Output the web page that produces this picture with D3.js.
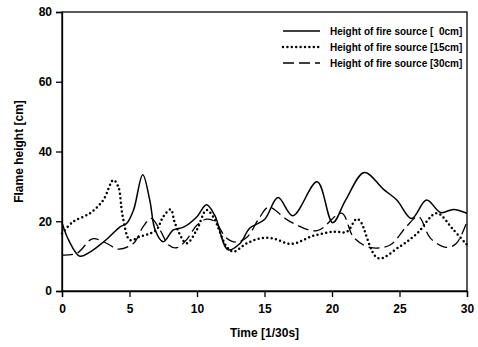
<!DOCTYPE html>
<html>
<head>
<meta charset="utf-8">
<script src="https://cdn.jsdelivr.net/npm/d3@7"></script>
<style>
  body { margin: 0; background: white; }
  text { font-family: "Liberation Sans", Arial, sans-serif; font-weight: bold; fill: black; }
</style>
</head>
<body>
<script>
const width = 478, height = 347;
const margin = {top: 12, right: 11, bottom: 56, left: 62};

// [time, flame height]
const src0 = [[0,19.6],[0.5,14.5],[1.3,10.0],[2,11],[2.8,13.2],[3.5,15.5],[4.3,18.4],[4.8,19.4],[5.3,23.2],[5.98,33.3],[6.5,26.1],[6.9,17.5],[7.5,14.1],[8.25,17.5],[9,18.3],[10,21.3],[10.7,24.7],[11.3,21.8],[12.3,11.8],[13.2,13.7],[13.9,18],[15,20.5],[16,26.8],[17.1,21.6],[18.9,31.3],[20.05,19.6],[21,26],[22.4,34],[23.8,29.2],[24.8,26.1],[25.9,20.8],[27,26.1],[28.05,22.5],[29,23.4],[30,22.3]];
const src15 = [[0,16.5],[0.84,19.9],[2.07,22.3],[3.06,26.1],[3.8,31.8],[4.17,29.9],[4.5,21.3],[5.04,14.6],[5.78,15.6],[6.5,16.5],[7,17.5],[7.5,21.3],[8.05,23.4],[8.37,19.4],[9.23,13.7],[9.98,17.5],[10.7,23.2],[11.2,21.3],[12.2,12.7],[12.7,11.3],[13.7,13.7],[14.67,15.1],[15.6,15.1],[17,13.5],[18.6,15.8],[20.1,17],[21.1,17],[21.8,20.6],[22.1,20],[23.4,9.4],[25,12.7],[26.3,16.5],[27.75,22.3],[29,17.5],[30,13.2]];
const src30 = [[0,10.3],[1.1,10.8],[2.07,14.6],[2.4,15],[3.3,13.7],[4.17,12.0],[5.3,13.7],[6,18.4],[6.6,20.8],[7.26,17.5],[7.9,13.2],[8.5,12.4],[9.2,14.6],[10,18.9],[10.7,20.6],[11.3,20],[12.2,15.1],[12.9,14],[13.7,15.4],[14.67,21.3],[15.3,24],[16.9,19.9],[18.9,17.3],[20.7,22.3],[21.6,15.4],[22.8,12.5],[24.3,13.2],[25.5,18.4],[26.4,21.3],[27.3,15.1],[28.5,12.5],[29.2,13.6],[30,19.9]];

const seriesNames = ["Height of fire source [  0cm]", "Height of fire source [15cm]", "Height of fire source [30cm]"];
const xTicks = [0, 5, 10, 15, 20, 25, 30];
const yTicks = [0, 20, 40, 60, 80];

const series = [
  {name: seriesNames[0], data: src0, dash: null, width: 1.5, cap: "butt"},
  {name: seriesNames[1], data: src15, dash: "0,4.4", width: 2.5, cap: "round"},
  {name: seriesNames[2], data: src30, dash: "11,5", width: 1.3, cap: "butt"}
];

const svg = d3.select("body").append("svg")
    .attr("width", width)
    .attr("height", height);

svg.append("rect")
    .attr("width", width)
    .attr("height", height)
    .attr("fill", "white");

const x = d3.scaleLinear().domain([0, 30]).range([margin.left, width - margin.right]);
const y = d3.scaleLinear().domain([0, 80]).range([height - margin.bottom, margin.top]);

// frame
svg.append("rect")
    .attr("x", x(0))
    .attr("y", y(80))
    .attr("width", x(30) - x(0))
    .attr("height", y(0) - y(80))
    .attr("fill", "none")
    .attr("stroke", "black")
    .attr("stroke-width", 1.3);

const line = d3.line()
    .x(d => x(d[0]))
    .y(d => y(d[1]))
    .curve(d3.curveCatmullRom.alpha(0.5));

svg.selectAll("path.series")
    .data(series)
    .enter().append("path")
        .attr("class", "series")
        .attr("d", d => line(d.data))
        .attr("fill", "none")
        .attr("stroke", "black")
        .attr("stroke-width", d => d.width)
        .attr("stroke-linecap", d => d.cap)
        .attr("stroke-dasharray", d => d.dash);

const xAxis = svg.append("g")
    .attr("transform", `translate(0,${y(0)})`)
    .call(d3.axisBottom(x).tickValues(xTicks).tickSize(6).tickPadding(7));

const yAxis = svg.append("g")
    .attr("transform", `translate(${x(0)},0)`)
    .call(d3.axisLeft(y).tickValues(yTicks).tickSize(6).tickPadding(4));

[xAxis, yAxis].forEach(g => {
    g.select(".domain").attr("stroke-width", 1.3);
    g.selectAll(".tick line").attr("stroke-width", 1.3);
    g.selectAll("text")
        .attr("font-size", 12)
        .attr("font-family", "Liberation Sans, Arial, sans-serif")
        .attr("font-weight", "bold");
});

svg.append("text")
    .attr("x", (x(0) + x(30)) / 2)
    .attr("y", 337)
    .attr("text-anchor", "middle")
    .attr("font-size", 12)
    .text("Time [1/30s]");

svg.append("text")
    .attr("transform", `translate(23,${(y(0) + y(80)) / 2}) rotate(-90)`)
    .attr("text-anchor", "middle")
    .attr("font-size", 12)
    .text("Flame height [cm]");

// legend
const legend = svg.append("g");
series.forEach((s, i) => {
    const ly = 31 + i * 16;
    legend.append("line")
        .attr("x1", 283).attr("x2", 320)
        .attr("y1", ly).attr("y2", ly)
        .attr("stroke", "black")
        .attr("stroke-width", s.width)
        .attr("stroke-linecap", s.cap)
        .attr("stroke-dasharray", s.dash);
    legend.append("text")
        .attr("x", 330)
        .attr("y", ly + 3.5)
        .attr("font-size", 10)
        .style("white-space", "pre")
        .text(s.name);
});
</script>
</body>
</html>
